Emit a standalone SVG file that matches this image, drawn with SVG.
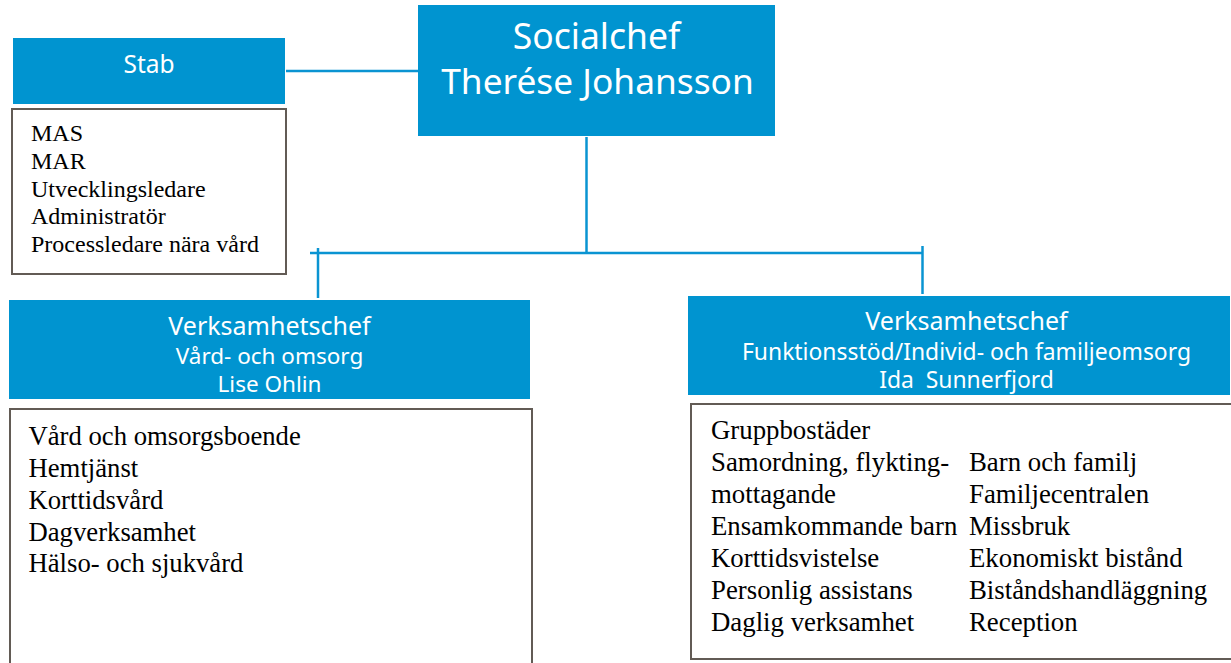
<svg xmlns="http://www.w3.org/2000/svg" width="1231" height="663" viewBox="0 0 1231 663">
<style>
.hdr{fill:#0094d0}
.lst{fill:#fff;stroke:#625b55;stroke-width:2}
.ht{font-family:"Noto Sans","Open Sans",sans-serif;fill:#fff;text-anchor:middle}
.lt{font-family:"Liberation Serif","Times New Roman",serif;fill:#000}
.con{stroke:#0a94d2;stroke-width:2.5;fill:none}
</style>
<rect width="1231" height="663" fill="#fff"/>
<g id="connectors">
<line class="con" x1="286" y1="71" x2="418" y2="71"/>
<line class="con" x1="586.5" y1="137" x2="586.5" y2="253"/>
<line class="con" x1="310" y1="253" x2="923" y2="253"/>
<line class="con" x1="318" y1="248" x2="318" y2="298"/>
<line class="con" x1="922.5" y1="246" x2="922.5" y2="294"/>
</g>
<g id="socialchef">
<rect class="hdr" x="418" y="5" width="357" height="131"/>
<text class="ht" font-size="35.5" x="596.5" y="49">Socialchef</text>
<text class="ht" font-size="35.3" x="597.5" y="94">Therése Johansson</text>
</g>
<g id="stab">
<rect class="hdr" x="13" y="38" width="272" height="66"/>
<text class="ht" font-size="24.5" x="149" y="73">Stab</text>
</g>
<g id="stab-list">
<rect class="lst" x="12" y="109" width="274" height="165"/>
<text class="lt" font-size="24"><tspan x="31" y="141">MAS</tspan><tspan x="31" y="169">MAR</tspan><tspan x="31" y="196.5">Utvecklingsledare</tspan><tspan x="31" y="224">Administratör</tspan><tspan x="31" y="251.5">Processledare nära vård</tspan></text>
</g>
<g id="vc-vard">
<rect class="hdr" x="9" y="300" width="521" height="99"/>
<text class="ht" font-size="25" x="269.5" y="335">Verksamhetschef</text>
<text class="ht" font-size="22.5" x="269.5" y="364">Vård- och omsorg</text>
<text class="ht" font-size="22.5" x="269.5" y="392">Lise Ohlin</text>
</g>
<g id="vard-list">
<rect class="lst" x="10" y="409" width="522" height="270"/>
<text class="lt" font-size="26.7"><tspan x="28.5" y="445">Vård och omsorgsboende</tspan><tspan x="28.5" y="477">Hemtjänst</tspan><tspan x="28.5" y="508.5">Korttidsvård</tspan><tspan x="28.5" y="540.5">Dagverksamhet</tspan><tspan x="28.5" y="572">Hälso- och sjukvård</tspan></text>
</g>
<g id="vc-funk">
<rect class="hdr" x="688" y="296" width="542" height="99"/>
<text class="ht" font-size="25" x="966.5" y="330">Verksamhetschef</text>
<text class="ht" font-size="22.9" x="966.5" y="360">Funktionsstöd/Individ- och familjeomsorg</text>
<text class="ht" font-size="22.9" x="966.5" y="388" xml:space="preserve">Ida  Sunnerfjord</text>
</g>
<g id="funk-list">
<rect class="lst" x="691" y="404" width="541" height="255"/>
<text class="lt" font-size="26.8"><tspan x="711" y="439">Gruppbostäder</tspan><tspan x="711" y="471">Samordning, flykting-</tspan><tspan x="711" y="503">mottagande</tspan><tspan x="711" y="535">Ensamkommande barn</tspan><tspan x="711" y="567">Korttidsvistelse</tspan><tspan x="711" y="599">Personlig assistans</tspan><tspan x="711" y="631">Daglig verksamhet</tspan></text>
<text class="lt" font-size="26.8"><tspan x="969" y="471">Barn och familj</tspan><tspan x="969" y="503">Familjecentralen</tspan><tspan x="969" y="535">Missbruk</tspan><tspan x="969" y="567">Ekonomiskt bistånd</tspan><tspan x="969" y="599">Biståndshandläggning</tspan><tspan x="969" y="631">Reception</tspan></text>
</g>
</svg>
